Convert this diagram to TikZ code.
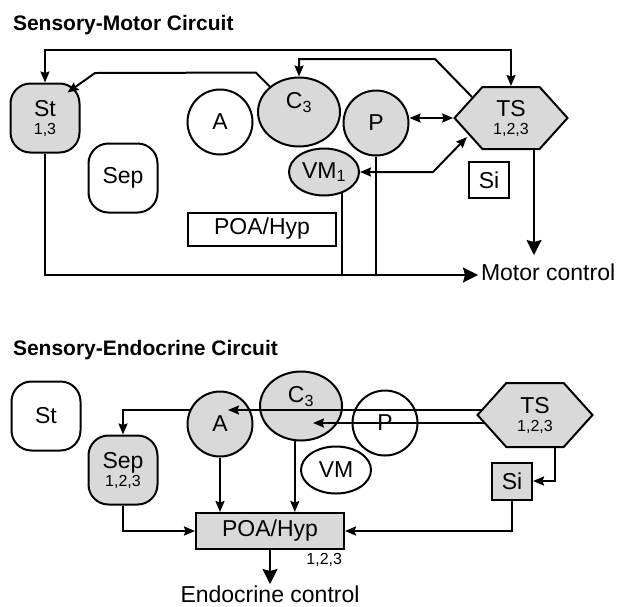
\documentclass[tikz,border=0pt]{standalone}
\usepackage{fontspec}
\setmainfont{Liberation Sans}
\usepackage{xcolor}
\usepackage{tikz}
\usetikzlibrary{shapes.geometric,shapes.symbols,arrows.meta}
\definecolor{nodegray}{RGB}{217,217,217}
\tikzset{every node/.style={font=\fontsize{23}{18}\selectfont}}
\newcommand{\nums}[1]{{\fontsize{16}{16}\selectfont #1}}

\begin{document}
\begin{tikzpicture}[
  x=1pt, y=-1pt,
  line width=2pt,
  >={Stealth[length=11pt,width=9pt,inset=1.5pt]},
  bigarrow/.style={-{Stealth[length=15pt,width=15pt,inset=2pt]}},
  region/.style={draw, rectangle, rounded corners=20pt, minimum width=69pt, minimum height=69pt, align=center, inner sep=0pt},
  nucleus/.style={draw, circle, minimum size=65pt, inner sep=0pt},
  oval/.style={draw, ellipse, minimum width=70pt, minimum height=47pt, inner sep=0pt},
  bigoval/.style={draw, ellipse, minimum width=82pt, minimum height=69pt, inner sep=0pt, text height=17pt, text depth=24pt},
  hexbox/.style={draw, signal, signal to=east and west, signal pointer angle=96, minimum width=113pt, minimum height=62pt, align=center, inner sep=0pt},
  smallbox/.style={draw, rectangle, minimum width=40pt, minimum height=36pt, inner sep=0pt},
  widebox/.style={draw, rectangle, minimum width=148pt, minimum height=33pt, inner sep=0pt},
  shaded/.style={fill=nodegray},
  title/.style={anchor=base west, inner sep=0pt, font=\fontsize{21}{21}\selectfont\bfseries}
]
\useasboundingbox (0,0) rectangle (620,606);

% Sensory-Motor Circuit
\node[title] (titlem) at (12,30) {Sensory-Motor Circuit};

\node[region, shaded] (stm) at (45,118) {St\\\nums{1,3}};
\node[region] (sepm) at (123,178) {Sep};
\node[nucleus] (am) at (220,122) {A};
\node[bigoval, shaded] (c3m) at (299,112) {C\textsubscript{3}};
\node[nucleus, shaded] (pm) at (376,123) {P};
\node[oval, shaded] (vmm) at (324,172) {VM\textsubscript{1}};
\node[hexbox, shaded] (tsm) at (511,118) {TS\\\nums{1,2,3}};
\node[smallbox] (sim) at (489,180) {Si};
\node[widebox] (poam) at (262,229) {POA/Hyp};
\node[anchor=west, inner sep=2pt, text depth=5pt] (motor) at (478,275) {Motor control};
\coordinate (tsout) at (534,255);

\draw[<->] (stm.north) -- ++(0,-33) -| (tsm.north);
\draw[->] (c3m.139) -- ++(-14,-14) -- (95,73) -- ([shift={(-13,10)}]stm.north east);
\draw[->] ([shift={(-39,-21)}]tsm.center) -- (435,59) -| (c3m.north);
\draw[<->] (pm.east |- tsm.west) -- (tsm.west);
\draw[<->] (vmm.east) -- (433,172) -- ([shift={(-44,19)}]tsm.center);
\draw[bigarrow] (stm.south) |- (motor.west);
\draw (vmm.310) -- (vmm.310 |- motor.west);
\draw (pm.south) -- (pm.south |- motor.west);
\draw[bigarrow] (tsout |- tsm.south) -- (tsout);

% Sensory-Endocrine Circuit
\node[title] (titlee) at (12,355) {Sensory-Endocrine Circuit};

\node[region] (ste) at (46,416) {St};
\node[region, shaded] (sepe) at (123,470) {Sep\\\nums{1,2,3}};
\node[nucleus, shaded] (ae) at (220,424) {A};
\node[bigoval, shaded] (c3e) at (301,406) {C\textsubscript{3}};
\node[nucleus] (pe) at (385,423) {P};
\node[oval] (vme) at (336,470) {VM};
\node[hexbox, shaded, minimum width=115pt, minimum height=64pt] (tse) at (535,415) {TS\\\nums{1,2,3}};
\node[smallbox, shaded, minimum height=37pt] (sie) at (512,481) {Si};
\node[widebox, shaded, minimum height=36pt,
  label={[anchor=north east, inner sep=2pt, font=\fontsize{16}{16}\selectfont]south east:1,2,3}] (poae) at (270,531) {POA/Hyp};
\node[anchor=north, inner sep=1pt, text depth=4pt] (endo) at (270,584) {Endocrine control};

\draw[->] ([shift={(-53,-5)}]tse.center) -- ([shift={(8,-14)}]ae.center);
\draw[->] ([shift={(-50,8)}]tse.center) -- ([shift={(12,17)}]c3e.center);
\draw[->] (ae.155) -| (sepe.north);
\draw[->] (ae.south) -- (ae.south |- poae.north);
\draw[->] (c3e.260) -- (c3e.260 |- poae.north);
\draw[->] (sepe.south) |- (poae.west);
\draw[->] ([xshift=20pt]tse.south) |- (sie.east);
\draw[->] (sie.south) |- (poae.east);
\draw[bigarrow] (poae.south) -- (endo.north);

\end{tikzpicture}
\end{document}
